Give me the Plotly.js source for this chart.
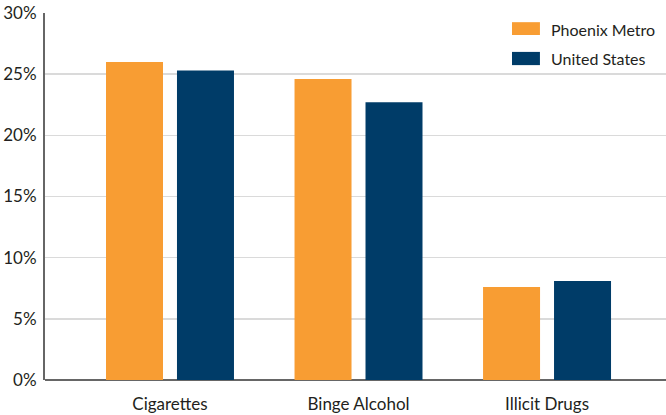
<!DOCTYPE html>
<html>
<head>
<meta charset="utf-8">
<script src="https://cdn.plot.ly/plotly-3.0.1.min.js"></script>
<style>
  html, body { margin: 0; padding: 0; background: #fff; }
  #chart { width: 666px; height: 415px; }
</style>
</head>
<body>
<div id="chart"></div>
<script>
// Substance use rates, Phoenix Metro vs. United States (percent)
const categories = ['Cigarettes', 'Binge Alcohol', 'Illicit Drugs'];
const seriesNames = ['Phoenix Metro', 'United States'];
const phoenixValues = [26.0, 24.6, 7.6];
const usValues = [25.3, 22.7, 8.1];
const yTickValues = [0, 5, 10, 15, 20, 25, 30];
const yTickLabels = ['0%', '5%', '10%', '15%', '20%', '25%', '30%'];

const colors = ['#F89D33', '#003C68'];
const fontFamily = 'Lato, "Open Sans", sans-serif';
const textColor = '#231f20';

const traces = [phoenixValues, usValues].map((vals, i) => ({
  type: 'bar',
  name: seriesNames[i],
  x: categories,
  y: vals,
  marker: { color: colors[i] },
  hoverinfo: 'x+y+name',
  showlegend: false
}));

// Legend: wide colour swatches with labels, top-right of the plot area
const swatchRows = [
  { y0: 0.940, y1: 0.975, ty: 0.956 },
  { y0: 0.858, y1: 0.894, ty: 0.875 }
];
const shapes = swatchRows.map((r, i) => ({
  type: 'rect', xref: 'paper', yref: 'paper',
  x0: 0.752, x1: 0.797, y0: r.y0, y1: r.y1,
  fillcolor: colors[i], line: { width: 0 }
}));
const annotations = swatchRows.map((r, i) => ({
  xref: 'paper', yref: 'paper',
  x: 0.811, y: r.ty, xanchor: 'left', yanchor: 'middle',
  text: seriesNames[i], showarrow: false,
  font: { family: fontFamily, size: 16, color: textColor }
}));

const layout = {
  width: 666,
  height: 415,
  margin: { l: 45, r: 0, t: 13, b: 35 },
  paper_bgcolor: '#ffffff',
  plot_bgcolor: '#ffffff',
  barmode: 'group',
  bargap: 0.247,
  bargroupgap: 0.197,
  showlegend: false,
  font: { family: fontFamily, size: 16, color: textColor },
  xaxis: {
    type: 'category',
    range: [-0.663, 2.631],
    showgrid: false,
    showline: false,
    zeroline: false,
    ticks: '',
    ticklabelstandoff: 12,
    tickfont: { family: fontFamily, size: 17, color: textColor },
    fixedrange: true
  },
  yaxis: {
    range: [0, 30],
    tickvals: yTickValues,
    ticktext: yTickLabels,
    showgrid: true,
    gridcolor: '#dadada',
    gridwidth: 1.5,
    showline: true,
    linecolor: '#666666',
    linewidth: 2,
    zeroline: true,
    zerolinecolor: '#666666',
    zerolinewidth: 2,
    ticks: '',
    ticklabelstandoff: 3,
    tickfont: { family: fontFamily, size: 17, color: textColor },
    fixedrange: true
  },
  shapes: shapes,
  annotations: annotations
};

Plotly.newPlot('chart', traces, layout, { displayModeBar: false, staticPlot: true });
</script>
</body>
</html>
